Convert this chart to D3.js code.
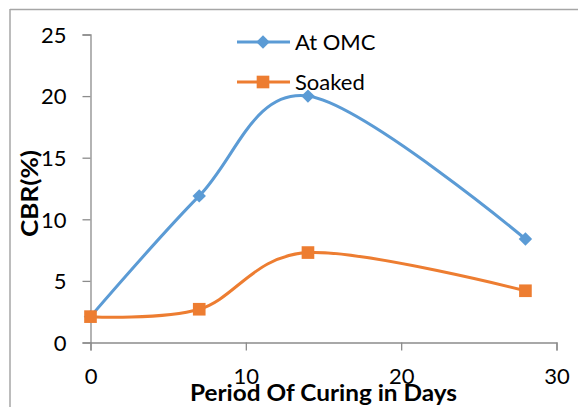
<!DOCTYPE html>
<html>
<head>
<meta charset="utf-8">
<script src="https://cdn.jsdelivr.net/npm/d3@7"></script>
<style>
  body { margin: 0; background: #fff; }
  text { font-family: Lato, "Open Sans", sans-serif; fill: #000; }
</style>
</head>
<body>
<div id="chart"></div>
<script>
// data
var days = [0, 7, 14, 28];
var cbrOmc = [2.1, 11.9, 20, 8.4];
var cbrSoaked = [2.1, 2.7, 7.3, 4.2];
var xTicks = [0, 10, 20, 30];
var yTicks = [0, 5, 10, 15, 20, 25];

var width = 578, height = 407;
var svg = d3.select("#chart").append("svg")
  .attr("width", width)
  .attr("height", height);

// chart frame (only top and left edges show)
svg.append("line").attr("x1", 10).attr("x2", width).attr("y1", 9.5).attr("y2", 9.5)
  .attr("stroke", "#a6a6a6").attr("stroke-width", 1.5);
svg.append("line").attr("x1", 10).attr("x2", 10).attr("y1", 9).attr("y2", height)
  .attr("stroke", "#a6a6a6").attr("stroke-width", 1.5);

var x = d3.scaleLinear().domain([0, 30]).range([90.5, 556.5]);
var y = d3.scaleLinear().domain([0, 25]).range([342.5, 34.5]);

var xAxis = d3.axisBottom(x).tickValues(xTicks).tickSize(8).tickPadding(18);
var yAxis = d3.axisLeft(y).tickValues(yTicks).tickSize(8).tickPadding(16);

var gx = svg.append("g").attr("transform", "translate(0," + y(0) + ")").call(xAxis);
var gy = svg.append("g").attr("transform", "translate(" + x(0) + ",0)").call(yAxis);

[gx, gy].forEach(function (g) {
  g.select(".domain").attr("stroke", "#8c8c8c").attr("stroke-width", 1.3);
  g.selectAll(".tick line").attr("stroke", "#8c8c8c").attr("stroke-width", 1.3);
  g.selectAll(".tick text").style("font-size", "22px").attr("fill", "#000");
});
gy.selectAll(".tick text").attr("dy", "0.35em");

// series
var series = [
  { name: "At OMC", values: cbrOmc, color: "#5b9bd5", marker: d3.symbolDiamond2 },
  { name: "Soaked", values: cbrSoaked, color: "#ed7d31", marker: d3.symbolSquare }
];

var line = d3.line()
  .x(function (d) { return x(d[0]); })
  .y(function (d) { return y(d[1]); })
  .curve(d3.curveCardinal.tension(0));

series.forEach(function (s) {
  var pts = days.map(function (d, i) { return [d, s.values[i]]; });
  svg.append("path")
    .datum(pts)
    .attr("fill", "none")
    .attr("stroke", s.color)
    .attr("stroke-width", 3)
    .attr("d", line);
});

series.forEach(function (s) {
  var size = s.marker === d3.symbolSquare ? 160 : 115;
  svg.selectAll(null)
    .data(days.map(function (d, i) { return [d, s.values[i]]; }))
    .enter()
    .append("path")
    .attr("transform", function (d) { return "translate(" + x(d[0]) + "," + y(d[1]) + ")"; })
    .attr("d", d3.symbol().type(s.marker).size(size))
    .attr("fill", s.color);
});

// legend
var legend = svg.append("g");
series.forEach(function (s, i) {
  var ly = 42 + i * 40;
  legend.append("line").attr("x1", 237).attr("x2", 290).attr("y1", ly).attr("y2", ly)
    .attr("stroke", s.color).attr("stroke-width", 3);
  legend.append("path")
    .attr("transform", "translate(263," + ly + ")")
    .attr("d", d3.symbol().type(s.marker).size(s.marker === d3.symbolSquare ? 160 : 115))
    .attr("fill", s.color);
  legend.append("text").attr("x", 295).attr("y", ly).attr("dy", "0.35em")
    .style("font-size", "22px").text(s.name);
});

// axis titles
svg.append("text")
  .attr("x", 190).attr("y", 401)
  .attr("textLength", 267)
  .attr("lengthAdjust", "spacingAndGlyphs")
  .style("font-size", "23px").style("font-weight", "bold")
  .text("Period Of Curing in Days");

svg.append("text")
  .attr("transform", "translate(38,237) rotate(-90)")
  .attr("textLength", 87)
  .attr("lengthAdjust", "spacingAndGlyphs")
  .style("font-size", "22px").style("font-weight", "bold")
  .text("CBR(%)");
</script>
</body>
</html>
